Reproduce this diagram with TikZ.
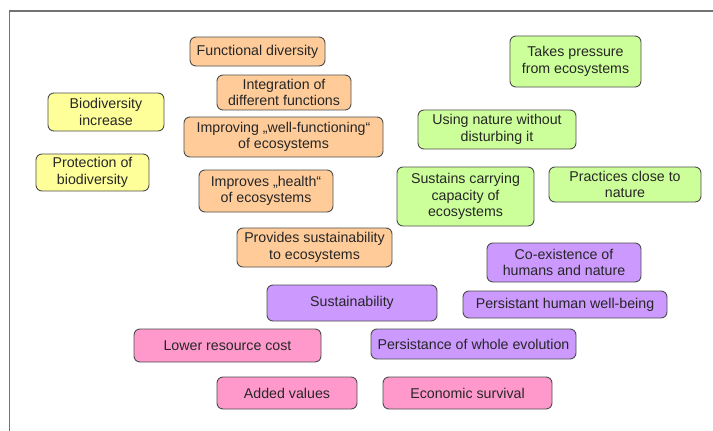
\documentclass[tikz,border=0pt]{standalone}
\usepackage{fontspec}
\setmainfont{Liberation Sans}
\definecolor{boxorange}{HTML}{FFCC99}
\definecolor{boxyellow}{HTML}{FFFF99}
\definecolor{boxgreen}{HTML}{CCFF99}
\definecolor{boxpurple}{HTML}{CC99FF}
\definecolor{boxpink}{HTML}{FF99CC}
\definecolor{boxline}{HTML}{4D4D4D}
\definecolor{textdark}{HTML}{262626}

\begin{document}
\begin{tikzpicture}[x=1pt, y=-1pt,
    item/.style={rectangle, rounded corners=6pt, draw=boxline, line width=0.9pt,
        align=center, inner sep=1pt, text=textdark,
        font=\fontsize{14.2}{16.5}\selectfont},
    orangebox/.style={item, fill=boxorange},
    yellowbox/.style={item, fill=boxyellow},
    greenbox/.style={item, fill=boxgreen},
    purplebox/.style={item, fill=boxpurple},
    pinkbox/.style={item, fill=boxpink},
    frame/.style={draw=black!55, line width=1.5pt}
]
    \useasboundingbox (0,0) rectangle (713,431);
    \draw[frame] (9.5,431) -- (9.5,11) -- (713,11);

    \node[orangebox, minimum width=135, minimum height=29] (fdiv) at (257.5,51.5) {Functional diversity};
    \node[orangebox, minimum width=134, minimum height=35] (integ) at (284,92.5) {Integration of\\different functions};
    \node[orangebox, minimum width=199, minimum height=40] (wellfun) at (283.5,137) {Improving „well-functioning“\\of ecosystems};
    \node[orangebox, minimum width=134, minimum height=42] (health) at (266,191) {Improves „health“\\of ecosystems};
    \node[orangebox, minimum width=155, minimum height=39] (provides) at (314.5,247.5) {Provides sustainability\\to ecosystems};

    \node[yellowbox, minimum width=116, minimum height=38] (bioinc) at (106,112) {Biodiversity\\increase};
    \node[yellowbox, minimum width=113, minimum height=37] (protect) at (92.5,172.5) {Protection of\\biodiversity};

    \node[greenbox, minimum width=131, minimum height=51] (pressure) at (575.5,61.5) {Takes pressure\\from ecosystems};
    \node[greenbox, minimum width=158, minimum height=39] (using) at (497,129.5) {Using nature without\\disturbing it};
    \node[greenbox, minimum width=137, minimum height=59] (sustains) at (465.5,196.5) {Sustains carrying\\capacity of\\ecosystems};
    \node[greenbox, minimum width=152, minimum height=35] (practices) at (625,184.5) {Practices close to\\nature};

    \node[purplebox, minimum width=154, minimum height=39] (coexist) at (564,262.5) {Co-existence of\\humans and nature};
    \node[purplebox, minimum width=170, minimum height=36] (sustain) at (352,303) {Sustainability};
    \node[purplebox, minimum width=204, minimum height=27] (wellbeing) at (565,304.5) {Persistant human well-being};
    \node[purplebox, minimum width=205, minimum height=30] (evolution) at (473.5,344) {Persistance of whole evolution};

    \node[pinkbox, minimum width=187, minimum height=33] (lowcost) at (227.5,345.5) {Lower resource cost};
    \node[pinkbox, minimum width=140, minimum height=32] (added) at (287,393) {Added values};
    \node[pinkbox, minimum width=169, minimum height=32] (econ) at (467.5,393) {Economic survival};
\end{tikzpicture}
\end{document}
